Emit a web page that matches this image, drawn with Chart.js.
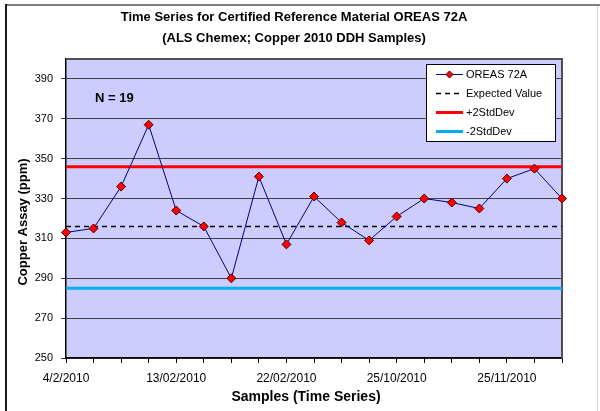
<!DOCTYPE html>
<html>
<head>
<meta charset="utf-8">
<title>OREAS 72A time series</title>
<script src="https://cdn.jsdelivr.net/npm/chart.js@4.4.1/dist/chart.umd.min.js"></script>
<style>
  html, body { margin: 0; padding: 0; background: #fff; }
  canvas { display: block; }
</style>
</head>
<body>
<canvas id="chart" width="600" height="411"></canvas>
<script>
const samples = [1, 2, 3, 4, 5, 6, 7, 8, 9, 10, 11, 12, 13, 14, 15, 16, 17, 18, 19];
const copper = [313, 315, 336, 367, 324, 316, 290, 341, 307, 331, 318, 309, 321, 330, 328, 325, 340, 345, 330];
const dateTicks = ['4/2/2010', '13/02/2010', '22/02/2010', '25/10/2010', '25/11/2010'];
const yTicks = [250, 270, 290, 310, 330, 350, 370, 390];
const expectedValue = 316;
const plus2SD = 346;
const minus2SD = 285;
const titleLines = [
    'Time Series for Certified Reference Material OREAS 72A',
    '(ALS Chemex; Copper 2010 DDH Samples)'
];
const xTitle = 'Samples (Time Series)';
const yTitle = 'Copper Assay (ppm)';

const FONT = "'Liberation Sans', Arial, sans-serif";
const flat = v => samples.map(() => v);

// background, frame, titles, plot border, "N =" note and the boxed legend
const decorations = {
    id: 'decorations',
    beforeDraw(chart) {
        const { ctx, chartArea: a } = chart;
        ctx.save();
        ctx.fillStyle = '#ccccff';
        ctx.fillRect(a.left, a.top, a.right - a.left, a.bottom - a.top);

        ctx.fillStyle = '#808080';
        ctx.fillRect(6, 4, 594, 2);
        ctx.fillStyle = '#1a1a1a';
        ctx.fillRect(5, 4, 2, 407);
        ctx.fillStyle = '#d4d4d4';
        ctx.fillRect(597, 6, 1, 405);

        ctx.fillStyle = '#000';
        ctx.font = `bold 13px ${FONT}`;
        ctx.textAlign = 'center';
        ctx.textBaseline = 'middle';
        titleLines.forEach((t, i) => ctx.fillText(t, 294, 17 + i * 21));

        ctx.font = `bold 14px ${FONT}`;
        ctx.fillText(xTitle, 306, 397);

        ctx.font = `bold 13px ${FONT}`;
        ctx.translate(23, 222);
        ctx.rotate(-Math.PI / 2);
        ctx.fillText(yTitle, 0, 0);
        ctx.restore();
    },
    beforeDatasetsDraw(chart) {
        const { ctx, chartArea: a } = chart;
        ctx.save();
        ctx.strokeStyle = '#505050';
        ctx.lineWidth = 2;
        ctx.beginPath();
        ctx.moveTo(a.left, a.top);
        ctx.lineTo(a.right, a.top);
        ctx.lineTo(a.right, a.bottom);
        ctx.stroke();
        ctx.restore();
    },
    afterDraw(chart) {
        const { ctx, chartArea: a } = chart;
        ctx.save();
        ctx.fillStyle = '#000';
        ctx.font = `bold 13px ${FONT}`;
        ctx.textAlign = 'left';
        ctx.textBaseline = 'middle';
        ctx.fillText('N = ' + copper.length, a.left + 29, a.top + 39);

        const lx = a.right - 136, ly = a.top + 5, lw = 129, lh = 77;
        ctx.fillStyle = '#fff';
        ctx.fillRect(lx, ly, lw, lh);
        ctx.strokeStyle = '#000';
        ctx.lineWidth = 1;
        ctx.strokeRect(lx + 0.5, ly + 0.5, lw, lh);

        ctx.font = `11px ${FONT}`;
        chart.data.datasets.forEach((ds, i) => {
            const y = ly + 10.5 + i * 19;
            ctx.setLineDash(ds.borderDash || []);
            ctx.strokeStyle = ds.borderColor;
            ctx.lineWidth = ds.borderWidth;
            ctx.beginPath();
            ctx.moveTo(lx + 10, y);
            ctx.lineTo(lx + 37, y);
            ctx.stroke();
            ctx.setLineDash([]);
            if (ds.pointRadius) {
                ctx.fillStyle = ds.pointBackgroundColor;
                ctx.strokeStyle = ds.pointBorderColor;
                ctx.lineWidth = 1;
                Chart.helpers.drawPoint(ctx, { pointStyle: ds.pointStyle, radius: 3.5, borderWidth: 1 }, lx + 23.5, y);
            }
            ctx.fillStyle = '#000';
            ctx.fillText(ds.label, lx + 40, y);
        });
        ctx.restore();
    }
};

new Chart(document.getElementById('chart'), {
    type: 'line',
    data: {
        labels: samples,
        datasets: [{
            label: 'OREAS 72A',
            data: copper,
            borderColor: '#000080',
            borderWidth: 1,
            pointStyle: 'rectRot',
            pointRadius: 4.5,
            pointBackgroundColor: '#ff0000',
            pointBorderColor: '#500000',
            pointBorderWidth: 1,
            tension: 0
        }, {
            label: 'Expected Value',
            data: flat(expectedValue),
            borderColor: '#000',
            borderWidth: 1.5,
            borderDash: [5, 4],
            pointRadius: 0
        }, {
            label: '+2StdDev',
            data: flat(plus2SD),
            borderColor: '#ff0000',
            borderWidth: 3,
            pointRadius: 0
        }, {
            label: '-2StdDev',
            data: flat(minus2SD),
            borderColor: '#00b0f0',
            borderWidth: 3,
            pointRadius: 0
        }]
    },
    options: {
        responsive: false,
        animation: false,
        devicePixelRatio: 1,
        layout: { padding: { left: 0, top: 59, right: 38, bottom: 0 } },
        plugins: {
            legend: { display: false },
            title: { display: false },
            tooltip: { enabled: false }
        },
        scales: {
            x: {
                offset: false,
                grid: { drawOnChartArea: false, tickLength: 5, color: '#000' },
                border: { color: '#000', width: 1.5 },
                ticks: {
                    autoSkip: false,
                    maxRotation: 0,
                    padding: 8,
                    color: '#000',
                    font: { family: FONT, size: 12 },
                    callback: (v, i) => i % 4 === 0 ? dateTicks[i / 4] : ''
                },
                afterFit: s => { s.height = 53; }
            },
            y: {
                min: 250,
                max: 400,
                afterBuildTicks: s => { s.ticks = yTicks.map(value => ({ value })); },
                grid: { color: '#404040', tickLength: 5 },
                border: { color: '#000', width: 1.5 },
                ticks: {
                    padding: 8,
                    color: '#000',
                    font: { family: FONT, size: 11 }
                },
                afterFit: s => { s.width = 66; }
            }
        }
    },
    plugins: [decorations]
});
</script>
</body>
</html>
